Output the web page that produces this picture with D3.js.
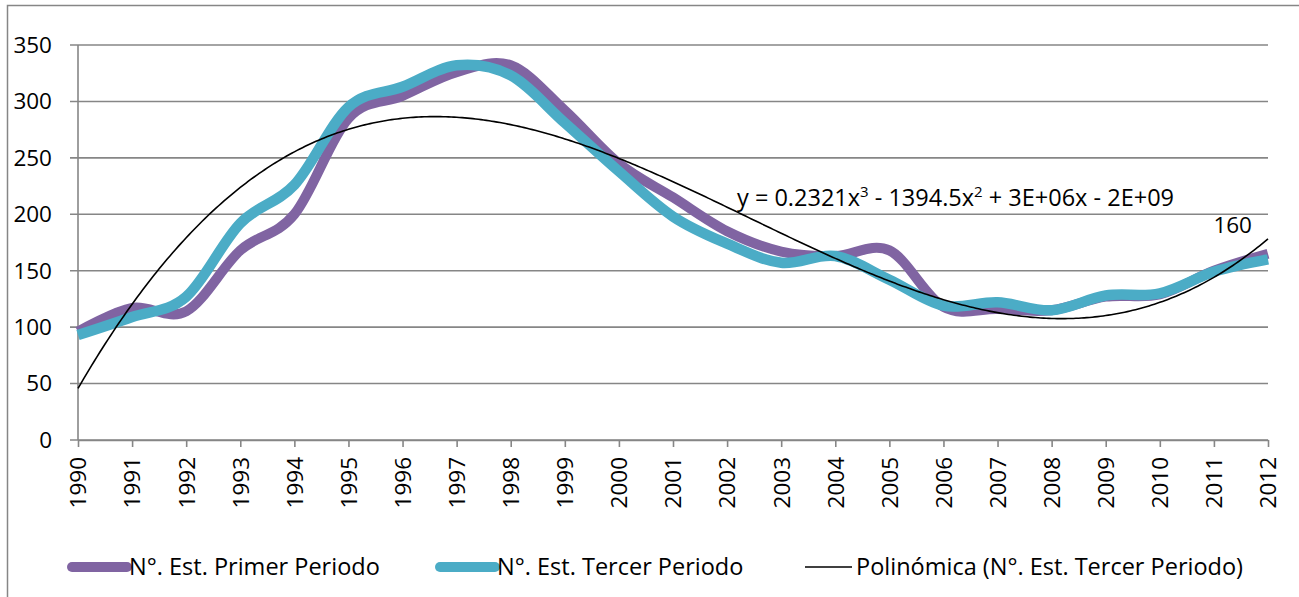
<!DOCTYPE html>
<html>
<head>
<meta charset="utf-8">
<script src="https://cdn.jsdelivr.net/npm/d3@7"></script>
<style>
  body { margin: 0; background: #fff; }
  text { font-family: "Open Sans", Lato, sans-serif; fill: #000; }
</style>
</head>
<body>
<div id="chart"></div>
<script>
var years = d3.range(1990, 2013);
var primer = [96, 117, 114, 168, 200, 285, 305, 326, 332, 292, 245, 215, 185, 167, 163, 168, 118, 116, 115, 127, 129, 150, 165];
var tercer = [93, 109, 127, 192, 226, 295, 313, 332, 323, 281, 238, 198, 174, 157, 163, 142, 119, 122, 115, 128, 130, 149, 160];
var yTicks = [0, 50, 100, 150, 200, 250, 300, 350];
var seriesNames = ["N°. Est. Primer Periodo", "N°. Est. Tercer Periodo", "Polinómica (N°. Est. Tercer Periodo)"];
var colors = ["#8064A2", "#4BACC6", "#000"];

var W = 1299, H = 597;
var margin = {top: 45, right: 31, bottom: 157, left: 78};
var width = W - margin.left - margin.right;
var height = H - margin.top - margin.bottom;
var fsNum = "22.5px";   // axis numbers
var fsTxt = "23.5px";   // legend / equation

var svg = d3.select("#chart").append("svg")
  .attr("width", W)
  .attr("height", H);

// outer chart border
svg.append("rect")
  .attr("x", 7.5).attr("y", 5.5)
  .attr("width", W).attr("height", H)
  .attr("fill", "none")
  .attr("stroke", "#868686")
  .attr("stroke-width", 1.5);

var g = svg.append("g")
  .attr("transform", "translate(" + margin.left + "," + margin.top + ")");

var x = d3.scaleLinear().domain([1990, 2012]).range([0, width]);
var y = d3.scaleLinear().domain([0, 350]).range([height, 0]);

// gridlines + y labels
g.selectAll(".grid")
  .data(yTicks)
  .enter().append("line")
  .attr("x1", -8).attr("x2", width)
  .attr("y1", function(d) { return y(d); })
  .attr("y2", function(d) { return y(d); })
  .attr("stroke", "#868686")
  .attr("stroke-width", 1.6);

g.selectAll(".ylab")
  .data(yTicks)
  .enter().append("text")
  .attr("x", -26)
  .attr("y", function(d) { return y(d); })
  .attr("dy", "0.35em")
  .attr("text-anchor", "end")
  .style("font-size", fsNum)
  .text(function(d) { return d; });

// y axis line
g.append("line")
  .attr("x1", 0).attr("x2", 0)
  .attr("y1", 0).attr("y2", height)
  .attr("stroke", "#868686").attr("stroke-width", 1.6);

// x axis with ticks
var xAxis = g.append("g")
  .attr("transform", "translate(0," + height + ")")
  .call(d3.axisBottom(x).tickValues(years).tickFormat(d3.format("d")).tickSize(7).tickSizeOuter(0));
xAxis.select(".domain").attr("stroke", "#868686").attr("stroke-width", 1.6);
xAxis.selectAll(".tick line").attr("stroke", "#868686").attr("stroke-width", 1.6);
xAxis.selectAll(".tick text")
  .style("font-size", fsNum)
  .style("font-family", "'Open Sans', sans-serif")
  .attr("fill", "#000")
  .attr("transform", "rotate(-90)")
  .attr("x", -17)
  .attr("y", 0)
  .attr("dy", "0.35em")
  .attr("text-anchor", "end");

// smoothed series
var line = d3.line()
  .x(function(d, i) { return x(years[i]); })
  .y(function(d) { return y(d); })
  .curve(d3.curveCardinal.tension(0));

g.append("path")
  .attr("d", line(primer))
  .attr("fill", "none")
  .attr("stroke", colors[0])
  .attr("stroke-width", 10);

g.append("path")
  .attr("d", line(tercer))
  .attr("fill", "none")
  .attr("stroke", colors[1])
  .attr("stroke-width", 10.5);

// cubic least-squares trend of tercer periodo
function cubicFit(xs, ys) {
  var mx = d3.mean(xs);
  var n = 4, A = [], b = [];
  for (var r = 0; r < n; r++) { A.push([0, 0, 0, 0]); b.push(0); }
  xs.forEach(function(xv, k) {
    var t = xv - mx;
    for (var r = 0; r < n; r++) {
      for (var c = 0; c < n; c++) A[r][c] += Math.pow(t, r + c);
      b[r] += ys[k] * Math.pow(t, r);
    }
  });
  // gaussian elimination
  for (var i = 0; i < n; i++) {
    for (var j = i + 1; j < n; j++) {
      var f = A[j][i] / A[i][i];
      for (var c = i; c < n; c++) A[j][c] -= f * A[i][c];
      b[j] -= f * b[i];
    }
  }
  var coef = [0, 0, 0, 0];
  for (var i = n - 1; i >= 0; i--) {
    var s = b[i];
    for (var c = i + 1; c < n; c++) s -= A[i][c] * coef[c];
    coef[i] = s / A[i][i];
  }
  return function(xv) {
    var t = xv - mx;
    return coef[0] + coef[1] * t + coef[2] * t * t + coef[3] * t * t * t;
  };
}
var trend = cubicFit(years, tercer);
var trendX = d3.range(1990, 2012.001, 0.05);

g.append("path")
  .attr("d", d3.line()
    .x(function(d) { return x(d); })
    .y(function(d) { return y(trend(d)); })(trendX))
  .attr("fill", "none")
  .attr("stroke", "#000")
  .attr("stroke-width", 1.6);

// equation label
var eq = g.append("text")
  .attr("x", 659)
  .attr("y", 161)
  .style("font-size", fsTxt);
eq.append("tspan").text("y = 0.2321x");
eq.append("tspan").attr("dy", -9).style("font-size", "15px").text("3");
eq.append("tspan").attr("dy", 9).text(" - 1394.5x");
eq.append("tspan").attr("dy", -9).style("font-size", "15px").text("2");
eq.append("tspan").attr("dy", 9).text(" + 3E+06x - 2E+09");

// data label on last point
g.append("text")
  .attr("x", x(2012) - 16)
  .attr("y", y(tercer[tercer.length - 1]) - 26)
  .attr("text-anchor", "end")
  .style("font-size", fsNum)
  .text(tercer[tercer.length - 1]);

// legend
var legendY = 567;
var legendItems = [
  {x0: 72, x1: 127, tx: 129, w: 10},
  {x0: 440, x1: 495, tx: 497, w: 10},
  {x0: 805, x1: 852, tx: 856, w: 1.6}
];
legendItems.forEach(function(it, i) {
  svg.append("line")
    .attr("x1", it.x0).attr("x2", it.x1)
    .attr("y1", legendY).attr("y2", legendY)
    .attr("stroke", colors[i])
    .attr("stroke-width", it.w)
    .attr("stroke-linecap", i < 2 ? "round" : "butt");
  svg.append("text")
    .attr("x", it.tx)
    .attr("y", legendY)
    .attr("dy", "0.35em")
    .style("font-size", fsTxt)
    .text(seriesNames[i]);
});
</script>
</body>
</html>
